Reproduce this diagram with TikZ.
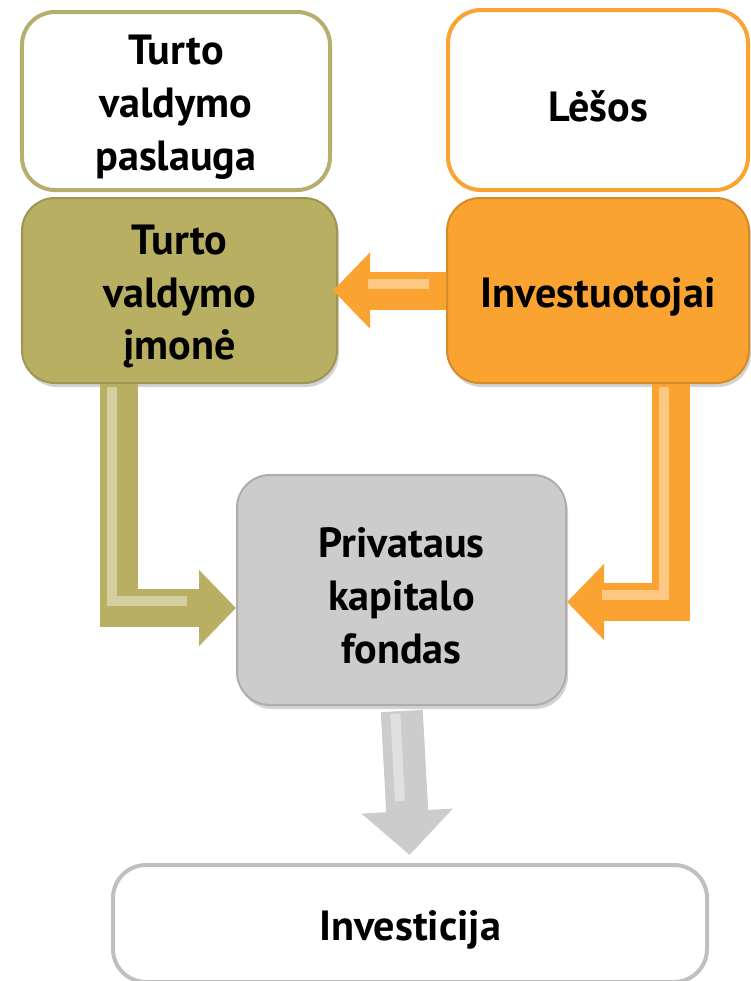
\documentclass[tikz,border=0pt]{standalone}
\usepackage{fontspec}
\setmainfont{PT Sans}
\usetikzlibrary{arrows.meta,shadows,positioning,calc}
\definecolor{oliveA}{HTML}{B8AF62}
\definecolor{oliveB}{HTML}{B5AE6E}
\definecolor{orangeA}{HTML}{FAA330}
\definecolor{grayA}{HTML}{CCCCCC}
\definecolor{grayB}{HTML}{BFBFBF}

\begin{document}
\begin{tikzpicture}[line cap=round, line join=round, font=\fontsize{12}{15}\selectfont\bfseries, >=Triangle]
	\tikzset{box/.style={rounded corners=0.33cm, align=center, inner sep=0pt, line width=0.04cm},
		filled/.style={box, draw=#1!85!black, line width=0.02cm, fill=#1, drop shadow={shadow xshift=0.02cm, shadow yshift=-0.04cm, opacity=0.35}},
		words/.style={label={[align=center, yshift=-0.06cm]center:#1}},
		flow/.style={line width=0.38cm, line cap=butt, line join=miter, draw=#1, -{Triangle[width=0.74cm, length=0.37cm]}},
		shine/.style={line width=0.1cm, line cap=butt, line join=miter, draw=#1!60!white, shorten <=0.1cm, shorten >=0.42cm, transform canvas={xshift=-0.07cm, yshift=0.07cm}}}
	\useasboundingbox (0,0) rectangle (7.51,-9.81);
	% boxes
	\node[box, draw=oliveB, minimum width=3.08cm, minimum height=1.78cm, words={Turto\\valdymo\\paslauga}] (paslauga) at (1.76,-1.01) {};
	\node[box, draw=orangeA, minimum width=3.0cm, minimum height=1.8cm, words={Lėšos}] (lesos) at (5.98,-1.0) {};
	\node[filled=oliveA, minimum width=3.15cm, minimum height=1.85cm, words={Turto\\valdymo\\įmonė}] (imone) at (1.795,-2.905) {};
	\node[filled=orangeA, minimum width=3.02cm, minimum height=1.85cm, words={Investuotojai}] (invest) at (5.98,-2.905) {};
	\node[filled=grayA, minimum width=3.29cm, minimum height=2.3cm, words={Privataus\\kapitalo\\fondas}] (fondas) at (4.015,-5.9) {};
	\node[box, draw=grayB, minimum width=5.94cm, minimum height=1.17cm, words={Investicija}] (investicija) at (4.10,-9.235) {};
	% arrows
	\draw[flow=orangeA] (invest.west) -- ($(imone.east)+(-0.05,0)$);
	\draw[shine=orangeA] (invest.west) -- ($(imone.east)+(-0.05,0)$);
	\draw[flow=oliveA] (imone.south -| 1.19,0) |- ($(fondas.west)+(0,-0.18)$);
	\draw[shine=oliveA] (imone.south -| 1.19,0) |- ($(fondas.west)+(0,-0.18)$);
	\draw[flow=orangeA] (invest.south -| 6.71,0) |- ($(fondas.east)+(0,-0.12)$);
	\draw[shine=orangeA] (invest.south -| 6.71,0) |- ($(fondas.east)+(0,-0.12)$);
	\draw[flow=grayA, line width=0.42cm, -{Triangle[width=0.89cm, length=0.44cm]}, shorten <=0.05cm, shorten >=0.08cm] (fondas.south) -- (investicija.north);
	\draw[shine=grayA, shorten <=0.15cm, shorten >=0.55cm] (fondas.south) -- (investicija.north);
\end{tikzpicture}
\end{document}
